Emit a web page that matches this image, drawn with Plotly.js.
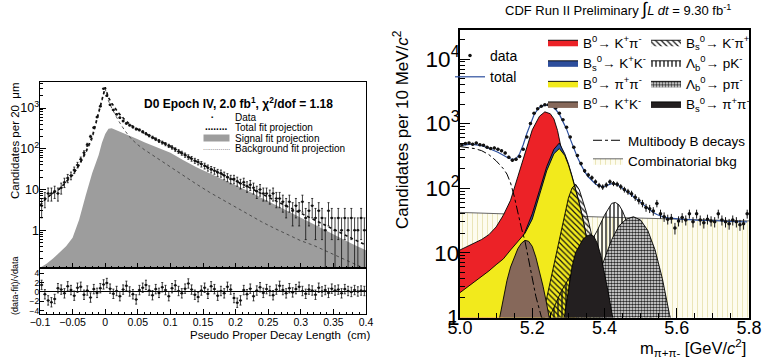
<!DOCTYPE html>
<html><head><meta charset="utf-8">
<script src="https://cdn.plot.ly/plotly-3.0.1.min.js"></script>
<style>html,body{margin:0;padding:0;background:#fff}#chart{width:764px;height:358px}</style>
</head><body><div id="chart"></div>
<script>
// ================= LEFT PANEL: D0 pseudo proper decay length =================
const d0X = [-0.0975,-0.0925,-0.0875,-0.0825,-0.0775,-0.0725,-0.0675,-0.0625,-0.0575,-0.0525,
 -0.0475,-0.0425,-0.0375,-0.0325,-0.0275,-0.0225,-0.0175,-0.0125,-0.0075,-0.0025,
 0.0025,0.0075,0.0125,0.0175,0.0225,0.0275,0.0325,0.0375,0.0425,0.0475,
 0.0525,0.0575,0.0625,0.0675,0.0725,0.0775,0.0825,0.0875,0.0925,0.0975,
 0.1025,0.1075,0.1125,0.1175,0.1225,0.1275,0.1325,0.1375,0.1425,0.1475,
 0.1525,0.1575,0.1625,0.1675,0.1725,0.1775,0.1825,0.1875,0.1925,0.1975,
 0.2025,0.2075,0.2125,0.2175,0.2225,0.2275,0.2325,0.2375,0.2425,0.2475,
 0.2525,0.2575,0.2625,0.2675,0.2725,0.2775,0.2825,0.2875,0.2925,0.2975,
 0.3025,0.3075,0.3125,0.3175,0.3225,0.3275,0.3325,0.3375,0.3425,0.3475,
 0.3525,0.3575,0.3625,0.3675,0.3725,0.3775,0.3825,0.3875,0.3925,0.3975];
const d0Counts = [4,6,8,8,9,8,11,15,19,22,
 30,40,55,80,125,200,330,600,1100,3000,
 2000,1200,900,700,580,480,420,380,340,305,
 290,262,235,210,190,172,155,142,130,118,
 108,96,86,78,70,63,57,51,47,42,
 38,34,31,29,26,25,22,20,18,18,
 16,14,15,12,13,11,9,10,8,8,
 7,8,6,6,5,4,5,3,4,3,
 5,2,3,4,2,3,2,1,3,2,
 1,2,1,2,1,2,1,1,2,1];
const d0Resid = [1.5,-0.5,-1.8,-2.2,-1.5,0.8,0.5,-0.3,1.2,0.4,
 -0.8,0.9,1.1,-0.6,0.3,-1.2,0.6,-0.2,0.8,1.6,
 1.9,0.7,-0.4,0.2,-0.9,0.5,1.3,0.1,-0.5,-1.6,
 0.4,0.9,1.5,0.3,-0.7,0.6,-0.2,1.0,0.4,-0.9,
 0.8,1.4,0.2,-0.3,0.7,1.8,0.5,-0.6,-1.1,0.3,
 0.9,-0.4,1.2,0.6,-0.8,0.2,-0.3,1.1,0.5,-1.3,
 -2.3,-1.8,0.4,-0.5,0.7,-0.9,0.3,1.0,-0.2,0.6,
 0.2,-0.7,0.5,1.3,0.4,-0.3,0.8,-0.1,0.6,1.1,
 0.2,-0.4,0.5,0.3,-0.6,0.9,0.1,0.4,-0.2,0.7,
 0.3,0.5,-0.3,0.6,0.2,0.0,0.4,0.1,0.3,0.2];
const d0FitX = [-0.1,-0.09,-0.08,-0.07,-0.06,-0.05,-0.04,-0.03,-0.02,-0.01,-0.005,0,0.005,0.01,0.02,0.03,0.04,0.05,0.06,0.08,
 0.10,0.12,0.14,0.16,0.18,0.20,0.22,0.24,0.26,0.28,0.30,0.32,0.34,0.36,0.38,0.40];
const d0Signal = [0.12,0.15,0.2,0.28,0.4,0.65,1.8,7,25,70,140,230,310,320,270,235,200,170,145,108,
 80,52,35,25,18,13,9,6.2,4.3,3,2,1.4,0.95,0.65,0.45,0.32];
const d0Bkg = [4,6,8,10,15,22,38,75,170,700,1400,3000,1500,1000,500,280,175,125,95,58,
 36,22,13.5,8.5,5.6,3.6,2.4,1.6,1.1,0.78,0.55,0.42,0.3,0.22,0.16,0.11];
const d0Total = [4.1,6.2,8.2,10.3,15.4,22.7,40,82,195,770,1540,3230,1810,1320,770,515,375,295,240,166,
 116,74,48.5,33.5,23.6,16.6,11.4,7.8,5.4,3.8,2.55,1.82,1.25,0.87,0.61,0.43];

// ================= RIGHT PANEL: CDF B -> h h' mass spectrum =================
const massX = [5.005,5.015,5.025,5.035,5.045,5.055,5.065,5.075,5.085,5.095,
 5.105,5.115,5.125,5.135,5.145,5.155,5.165,5.175,5.185,5.195,
 5.205,5.215,5.225,5.235,5.245,5.255,5.265,5.275,5.285,5.295,
 5.305,5.315,5.325,5.335,5.345,5.355,5.365,5.375,5.385,5.395,
 5.405,5.415,5.425,5.435,5.445,5.455,5.465,5.475,5.485,5.495,
 5.505,5.515,5.525,5.535,5.545,5.555,5.565,5.575,5.585,5.595,
 5.605,5.615,5.625,5.635,5.645,5.655,5.665,5.675,5.685,5.695,
 5.705,5.715,5.725,5.735,5.745,5.755,5.765,5.775,5.785,5.795];
const massCounts = [470,490,500,480,500,470,460,430,410,420,
 400,380,350,300,270,280,310,400,620,1000,
 1450,1700,1850,1950,1950,1900,1750,1450,1150,880,
 620,430,320,240,185,160,145,125,110,104,
 112,125,118,115,105,95,88,82,72,64,
 58,50,48,44,58,40,36,33,34,24,
 31,35,32,40,30,40,32,29,33,31,
 30,40,32,30,28,32,30,27,28,40];
const massTotal = [460,470,475,475,470,460,445,425,405,385,
 360,335,310,290,278,285,340,470,700,1020,
 1370,1660,1850,1930,1910,1820,1650,1400,1100,820,
 580,410,300,230,180,150,130,116,108,105,
 108,115,118,113,104,95,86,78,70,63,
 57,51,46,42,39,37,35.5,34.5,34,33.5,
 33,33,32.5,32.5,32,32,31.5,31.5,31.5,31,
 31,31,31,30.5,30.5,30.5,30.5,30,30,30];
const combX = [5.0,5.1,5.2,5.3,5.4,5.5,5.6,5.7,5.8];
const combY = [42,40,38.5,37,35.5,34,33,32,31];
const multiX = [5.00,5.02,5.04,5.06,5.08,5.10,5.12,5.13,5.14,5.15,5.16,5.17,5.18,5.19,5.20,5.21,5.22,5.23,5.24];
const multiY = [440,430,410,380,330,265,200,165,120,75,42,24,15,7.5,3.8,2.1,1.3,0.8,0.5];
const b0KpiX = [5.00,5.02,5.04,5.06,5.08,5.10,5.12,5.14,5.16,5.18,5.20,5.22,5.235,5.25,5.26,5.27,5.28,5.29,5.30,5.32,5.34,5.36];
const b0KpiY = [11,12.5,14,16,19,25,38,65,150,350,800,1300,1520,1420,1180,780,430,230,120,30,6,1];
const bsKKX = [5.12,5.14,5.16,5.18,5.20,5.22,5.24,5.26,5.275,5.29,5.30,5.31,5.32,5.33,5.34,5.35,5.36,5.37,5.38,5.39];
const bsKKY = [3,5.5,11,21,40,92,215,400,500,340,240,155,98,60,34,18.5,9.2,4.1,1.8,0.8];
const b0pipiX = [5.00,5.02,5.04,5.06,5.08,5.10,5.12,5.14,5.16,5.18,5.20,5.22,5.24,5.26,5.275,5.29,5.30,5.31,5.32,5.33,5.34,5.35,5.36,5.37,5.38,5.39];
const b0pipiY = [2.4,2.9,3.5,4.3,5.2,6.5,8,11,15,20,33,80,185,340,410,320,230,150,95,58,33,18,9,4,1.8,0.8];
const bsKpiX = [5.22,5.24,5.26,5.28,5.29,5.30,5.31,5.32,5.33,5.34,5.35,5.36,5.37,5.38,5.39,5.40,5.41];
const bsKpiY = [0.6,2,6,22,40,70,100,115,95,62,42,24,14,7,3.5,1.6,0.7];
const lbpKX = [5.24,5.28,5.32,5.35,5.38,5.40,5.42,5.43,5.44,5.45,5.46,5.48,5.50,5.52,5.54];
const lbpKY = [0.8,2.5,6,11,22,38,58,60,55,44,32,15,5,1.6,0.6];
const lbppiX = [5.30,5.34,5.38,5.40,5.42,5.44,5.46,5.48,5.50,5.52,5.54,5.56,5.57,5.58,5.60];
const lbppiY = [0.6,1.5,4,8,16,26,33,36,32,22,11,4,2,1.1,0.4];
const b0KKX = [5.09,5.10,5.11,5.12,5.13,5.14,5.15,5.16,5.17,5.18,5.19,5.20,5.21,5.22,5.23,5.24,5.25,5.26];
const b0KKY = [0.4,0.7,1.0,2,3.7,6,8.5,11.5,14,15.5,15,12.5,8.5,5.2,3,1.6,0.8,0.4];
const bspipiX = [5.27,5.28,5.29,5.30,5.31,5.32,5.33,5.34,5.35,5.36,5.37,5.38,5.39,5.40,5.41,5.42,5.43,5.44];
const bspipiY = [0.3,0.7,1.1,2.8,6,10,13,16,18,19,18,14,9,5,2.5,1.2,0.6,0.3];

const FONT = 'Liberation Sans, Arial, Helvetica, sans-serif';
const RED = '#ec2227', BLUE = '#2d4e9c', YELLOW = '#f2ea1c', BROWN = '#86685a', BLACK = '#231f20';
const COMB_PAT = {shape:'|', fgcolor:'#e4dda6', bgcolor:'#fdfcef', size:5, solidity:0.15};
const KPI_PAT = {shape:'\\', fgcolor:'#111', bgcolor:'rgba(0,0,0,0)', size:4, solidity:0.3};
const PK_PAT = {shape:'|', fgcolor:'#222', bgcolor:'rgba(0,0,0,0)', size:4, solidity:0.35};
const PPI_PAT = {shape:'.', fgcolor:'#2a2a2a', bgcolor:'#ffffff', size:3, solidity:0.6};

function comp(x, y, name, legend, rank, fillcolor, pattern, lineColor) {
  const t = {type:'scatter', x:x, y:y, xaxis:'x3', yaxis:'y3', mode:'lines', fill:'tozeroy',
    name:name, legend:legend, legendrank:rank,
    line:{color:lineColor || '#000', width:0.9}, hoverinfo:'skip'};
  if (pattern) { t.fillpattern = pattern; t.fillcolor = 'rgba(0,0,0,0)'; } else { t.fillcolor = fillcolor; }
  return t;
}

const traces = [
  // left: signal, background, total, data
  {type:'scatter', x:d0FitX, y:d0Signal, xaxis:'x', yaxis:'y', mode:'lines', fill:'tozeroy',
   fillcolor:'#9d9d9d', line:{width:0, color:'#9d9d9d'}, showlegend:false, hoverinfo:'skip'},
  {type:'scatter', x:d0FitX, y:d0Bkg, xaxis:'x', yaxis:'y', mode:'lines',
   line:{dash:'dot', width:0.9, color:'#444'}, showlegend:false},
  {type:'scatter', x:d0FitX, y:d0Total, xaxis:'x', yaxis:'y', mode:'lines',
   line:{dash:'dot', width:1.6, color:'#111'}, showlegend:false},
  {type:'scatter', x:d0X, y:d0Counts, xaxis:'x', yaxis:'y', mode:'markers',
   marker:{size:2.5, color:'#111'},
   error_y:{type:'sqrt', thickness:0.8, width:1, color:'#111'},
   error_x:{type:'constant', value:0.0025, thickness:0.8, width:0, color:'#111'}, showlegend:false},
  // residuals
  {type:'scatter', x:d0X, y:d0Resid, xaxis:'x2', yaxis:'y2', mode:'markers',
   marker:{size:2.5, color:'#111'},
   error_y:{type:'constant', value:1, thickness:0.8, width:1, color:'#111'},
   error_x:{type:'constant', value:0.0025, thickness:0.8, width:0, color:'#111'}, showlegend:false},

  // right: components (draw order) with their legend entries
  comp(combX, combY, 'Combinatorial bkg', 'legend4', 2, null, COMB_PAT, '#555'),
  comp(b0KpiX, b0KpiY, 'B<sup>0</sup>→ K<sup>+</sup>π<sup>-</sup>', 'legend2', 1, RED),
  comp(bsKKX, bsKKY, 'B<sub>s</sub><sup>0</sup>→ K<sup>+</sup>K<sup>-</sup>', 'legend2', 2, BLUE),
  comp(b0pipiX, b0pipiY, 'B<sup>0</sup>→ π<sup>+</sup>π<sup>-</sup>', 'legend2', 3, YELLOW),
  comp(lbpKX, lbpKY, 'Λ<sub>b</sub><sup>0</sup>→ pK<sup>-</sup>', 'legend3', 2, null, PK_PAT),
  comp(bsKpiX, bsKpiY, 'B<sub>s</sub><sup>0</sup>→ K<sup>-</sup>π<sup>+</sup>', 'legend3', 1, null, KPI_PAT),
  comp(lbppiX, lbppiY, 'Λ<sub>b</sub><sup>0</sup>→ pπ<sup>-</sup>', 'legend3', 3, null, PPI_PAT),
  comp(b0KKX, b0KKY, 'B<sup>0</sup>→ K<sup>+</sup>K<sup>-</sup>', 'legend2', 4, BROWN),
  comp(bspipiX, bspipiY, 'B<sub>s</sub><sup>0</sup>→ π<sup>+</sup>π<sup>-</sup>', 'legend3', 4, BLACK),
  {type:'scatter', x:multiX, y:multiY, xaxis:'x3', yaxis:'y3', mode:'lines', name:'Multibody B decays',
   legend:'legend4', legendrank:1, line:{color:'#000', width:1, dash:'dashdot'}},
  {type:'scatter', x:massX, y:massTotal, xaxis:'x3', yaxis:'y3', mode:'lines', name:'total',
   legend:'legend', legendrank:2, line:{color:'#2c4f9e', width:1.2}},
  {type:'scatter', x:massX, y:massCounts, xaxis:'x3', yaxis:'y3', mode:'markers', name:'data',
   legend:'legend', legendrank:1, marker:{size:3.5, color:'#111'},
   error_y:{type:'sqrt', thickness:1, width:0, color:'#111'},
   error_x:{type:'constant', value:0.004, thickness:1, width:0, color:'#111'}}
];

const px = v => v / 764;
const py = v => 1 - v / 358;
const baseAxis = {showgrid:false, zeroline:false, showline:true, mirror:true, linecolor:'#000',
  ticks:'inside', tickcolor:'#000', tickfont:{family:FONT, size:10, color:'#000'}};
const legBase = {bgcolor:'rgba(0,0,0,0)', borderwidth:0, xanchor:'left', yanchor:'top',
  font:{family:FONT, size:13.5, color:'#000'}, traceorder:'normal'};

const layout = {
  width:764, height:358, margin:{l:0, r:0, t:0, b:0},
  paper_bgcolor:'#fff', plot_bgcolor:'rgba(0,0,0,0)', font:{family:FONT, color:'#000'},
  showlegend:true,
  xaxis: Object.assign({}, baseAxis, {domain:[px(40), px(366)], range:[-0.1, 0.4], anchor:'y',
    showticklabels:false, dtick:0.05, tick0:0, ticklen:5,
    minor:{ticks:'inside', ticklen:2.5, dtick:0.01, tickcolor:'#000'}}),
  yaxis: Object.assign({}, baseAxis, {domain:[py(268), py(82)], type:'log', range:[-0.93, 3.64], anchor:'x',
    dtick:1, exponentformat:'power', ticklen:6, ticklabelstandoff:-2,
    minor:{ticks:'inside', ticklen:3, dtick:'D1', tickcolor:'#000'}}),
  xaxis2: Object.assign({}, baseAxis, {domain:[px(40), px(366)], range:[-0.1, 0.4], anchor:'y2',
    dtick:0.05, tick0:0, ticklen:5, ticklabelstandoff:-2, tickfont:{family:FONT, size:10.5, color:'#000'},
    minor:{ticks:'inside', ticklen:2.5, dtick:0.01, tickcolor:'#000'}}),
  yaxis2: Object.assign({}, baseAxis, {domain:[py(314), py(268)], range:[-4.7, 5.1], anchor:'x2',
    tickvals:[-4,-2,0,2,4], ticklen:4, ticklabelstandoff:-2, tickfont:{family:FONT, size:8.5, color:'#000'},
    zeroline:true, zerolinecolor:'#000', zerolinewidth:1}),
  xaxis3: Object.assign({}, baseAxis, {domain:[px(460), px(749)], range:[5.0, 5.8], anchor:'y3',
    dtick:0.2, tick0:5.0, tickformat:'.1f', ticklen:10, linewidth:2, ticklabelstandoff:-7,
    tickfont:{family:FONT, size:18, color:'#000'},
    minor:{ticks:'inside', ticklen:5, dtick:0.05, tickcolor:'#000'}}),
  yaxis3: Object.assign({}, baseAxis, {domain:[py(317.5), py(30)], type:'log', range:[-0.005, 4.45], anchor:'x3',
    dtick:1, exponentformat:'power', ticklen:10, linewidth:2, ticklabelstandoff:-5,
    tickfont:{family:FONT, size:18, color:'#000'},
    minor:{ticks:'inside', ticklen:5, dtick:'D1', tickcolor:'#000'}}),
  legend: Object.assign({}, legBase, {x:px(450), y:py(40), font:{family:FONT, size:14, color:'#000'}}),
  legend2: Object.assign({}, legBase, {x:px(543), y:py(27)}),
  legend3: Object.assign({}, legBase, {x:px(646), y:py(27)}),
  legend4: Object.assign({}, legBase, {x:px(588), y:py(125)}),
  annotations: [
    {text:'<b>D0 Epoch IV, 2.0 fb<sup>1</sup>, χ<sup>2</sup>/dof = 1.18</b>', x:px(142), y:py(103),
     xanchor:'left', yanchor:'middle', font:{size:12}},
    {text:'Data', x:px(233), y:py(117), xanchor:'left', yanchor:'middle', font:{size:10}},
    {text:'Total fit projection', x:px(233), y:py(127.5), xanchor:'left', yanchor:'middle', font:{size:10}},
    {text:'Signal fit projection', x:px(233), y:py(138), xanchor:'left', yanchor:'middle', font:{size:10}},
    {text:'Background fit projection', x:px(233), y:py(148.5), xanchor:'left', yanchor:'middle', font:{size:10}},
    {text:'▪', x:px(212), y:py(117), xanchor:'center', yanchor:'middle', font:{size:6}},
    {text:'<b>........</b>', x:px(216), y:py(126), xanchor:'center', yanchor:'middle', font:{size:10}},
    {text:' ', x:px(216), y:py(138), xanchor:'center', yanchor:'middle', width:25, height:6, borderpad:0,
     bgcolor:'#9d9d9d', font:{size:3}},
    {text:'..............', x:px(216), y:py(147), xanchor:'center', yanchor:'middle', font:{size:7, color:'#555'}},
    {text:'Candidates per 20  μm', x:px(15), y:py(141), textangle:-90, xanchor:'center', yanchor:'middle', font:{size:11.5}},
    {text:'(data-fit)/√data', x:px(15), y:py(286), textangle:-90, xanchor:'center', yanchor:'middle', font:{size:9}},
    {text:'Pseudo Proper Decay Length  (cm)', x:px(372), y:py(334.5), xanchor:'right', yanchor:'middle', font:{size:11.5}},
    {text:'CDF Run II Preliminary <span style="font-size:18px">∫</span><i>L dt</i> = 9.30 fb<sup>-1</sup>',
     x:px(618), y:py(9), xanchor:'center', yanchor:'middle', font:{size:13}},
    {text:'Candidates per 10 MeV/<i>c</i><sup>2</sup>', x:px(401), y:py(130), textangle:-90,
     xanchor:'center', yanchor:'middle', font:{size:17}},
    {text:'m<sub>π+π-</sub> [GeV/<i>c</i><sup>2</sup>]', x:px(748), y:py(347.5), xanchor:'right', yanchor:'middle', font:{size:16.5}}
  ].map(a => Object.assign({xref:'paper', yref:'paper', showarrow:false}, a, {font:Object.assign({family:FONT, color:'#000'}, a.font)}))
};

Plotly.newPlot('chart', traces, layout, {displayModeBar:false, staticPlot:true});
</script></body></html>
